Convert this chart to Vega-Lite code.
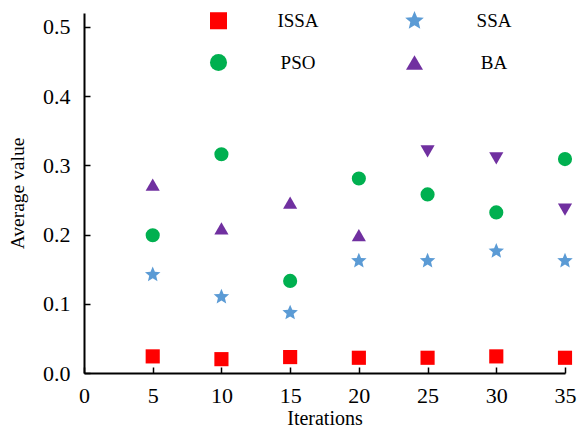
{
  "$schema": "https://vega.github.io/schema/vega-lite/v6.json",
  "width": 481,
  "height": 360,
  "autosize": "none",
  "padding": {"left": 84, "top": 13, "right": 16, "bottom": 57},
  "config": {
    "view": {"stroke": null},
    "font": "Liberation Serif",
    "axis": {
      "grid": false,
      "domainColor": "black",
      "domainWidth": 2,
      "tickColor": "black",
      "tickWidth": 1.5,
      "tickSize": -6,
      "labelFont": "Liberation Serif",
      "labelFontSize": 22,
      "labelColor": "black",
      "labelFlush": false,
      "titleFont": "Liberation Serif",
      "titleFontWeight": "normal",
      "titleColor": "black"
    },
    "legend": {
      "labelFont": "Liberation Serif",
      "labelFontSize": 19,
      "labelFontWeight": "normal",
      "labelColor": "black",
      "labelAlign": "center",
      "orient": "none",
      "direction": "horizontal",
      "legendX": 125,
      "legendY": -2,
      "columns": 2,
      "columnPadding": 86,
      "rowPadding": 22,
      "labelOffset": 70,
      "symbolSize": 290,
      "title": null
    }
  },
  "data": {
    "values": [
      {"iter": 5, "series": "ISSA", "value": 0.024},
      {"iter": 10, "series": "ISSA", "value": 0.020},
      {"iter": 15, "series": "ISSA", "value": 0.023},
      {"iter": 20, "series": "ISSA", "value": 0.022},
      {"iter": 25, "series": "ISSA", "value": 0.022},
      {"iter": 30, "series": "ISSA", "value": 0.024},
      {"iter": 35, "series": "ISSA", "value": 0.022},
      {"iter": 5, "series": "SSA", "value": 0.142},
      {"iter": 10, "series": "SSA", "value": 0.110},
      {"iter": 15, "series": "SSA", "value": 0.087},
      {"iter": 20, "series": "SSA", "value": 0.162},
      {"iter": 25, "series": "SSA", "value": 0.162},
      {"iter": 30, "series": "SSA", "value": 0.176},
      {"iter": 35, "series": "SSA", "value": 0.162},
      {"iter": 5, "series": "PSO", "value": 0.199},
      {"iter": 10, "series": "PSO", "value": 0.316},
      {"iter": 15, "series": "PSO", "value": 0.133},
      {"iter": 20, "series": "PSO", "value": 0.281},
      {"iter": 25, "series": "PSO", "value": 0.258},
      {"iter": 30, "series": "PSO", "value": 0.232},
      {"iter": 35, "series": "PSO", "value": 0.309},
      {"iter": 5, "series": "BA", "value": 0.272},
      {"iter": 10, "series": "BA", "value": 0.209},
      {"iter": 15, "series": "BA", "value": 0.246},
      {"iter": 20, "series": "BA", "value": 0.199},
      {"iter": 25, "series": "BA", "value": 0.320},
      {"iter": 30, "series": "BA", "value": 0.310},
      {"iter": 35, "series": "BA", "value": 0.236}
    ]
  },
  "layer": [
    {
      "transform": [{"filter": "datum.series != 'BA' || datum.iter <= 20"}],
      "mark": {"type": "point", "filled": true, "opacity": 1, "size": 200},
      "encoding": {
        "x": {
          "field": "iter", "type": "quantitative",
          "scale": {"domain": [0, 35], "nice": false},
          "axis": {"values": [0, 5, 10, 15, 20, 25, 30, 35], "title": "Iterations", "titleFontSize": 20, "labelPadding": 18, "titlePadding": 2}
        },
        "y": {
          "field": "value", "type": "quantitative",
          "scale": {"domain": [0, 0.52], "nice": false},
          "axis": {"values": [0, 0.1, 0.2, 0.3, 0.4, 0.5], "format": ".1f", "title": "Average value", "titleFontSize": 19.5, "labelPadding": 20, "titlePadding": 15}
        },
        "color": {
          "field": "series", "type": "nominal",
          "scale": {"domain": ["ISSA", "SSA", "PSO", "BA"], "range": ["#FF0000", "#5B9BD5", "#00B050", "#7030A0"]}
        },
        "shape": {
          "field": "series", "type": "nominal",
          "scale": {"domain": ["ISSA", "SSA", "PSO", "BA"], "range": ["square", "M0,-1.15L0.305,-0.419L1.094,-0.355L0.492,0.16L0.676,0.93L0,0.518L-0.676,0.93L-0.492,0.16L-1.094,-0.355L-0.305,-0.419Z", "circle", "triangle-up"]}
        }
      }
    },
    {
      "transform": [{"filter": "datum.series == 'BA' && datum.iter >= 25"}],
      "mark": {"type": "point", "filled": true, "opacity": 1, "size": 200, "shape": "triangle-down", "color": "#7030A0"},
      "encoding": {
        "x": {"field": "iter", "type": "quantitative"},
        "y": {"field": "value", "type": "quantitative"}
      }
    }
  ]
}
